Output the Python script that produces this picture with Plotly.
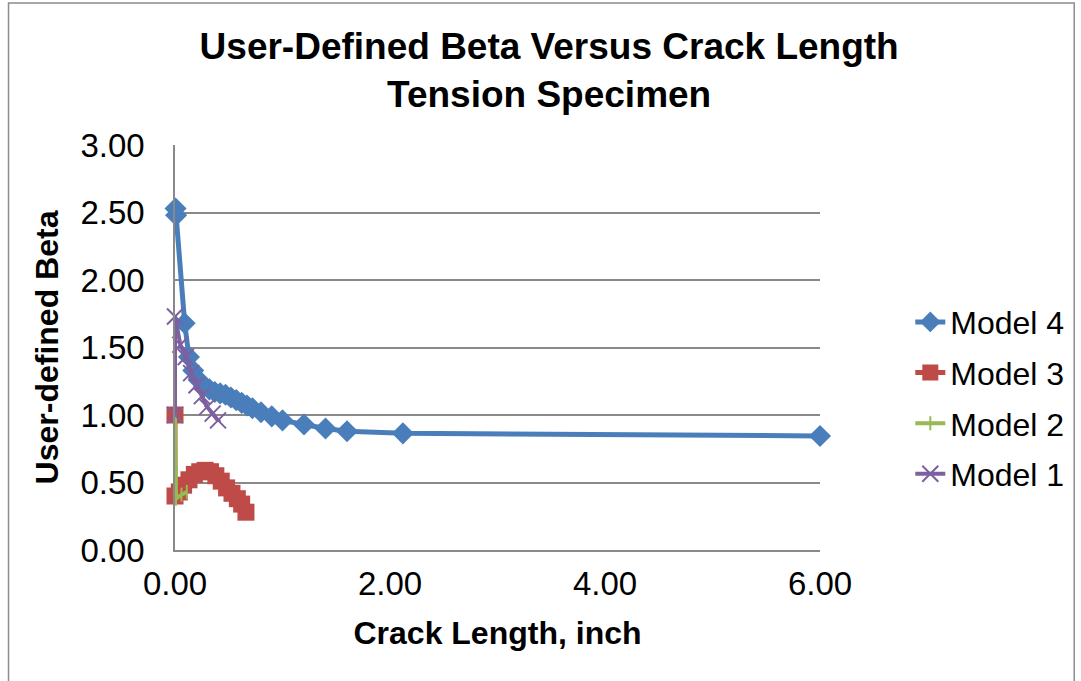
import plotly.graph_objects as go

# Crack length (inch) and user-defined beta for each model
m4_x = [0.005, 0.01, 0.09, 0.13, 0.17, 0.22, 0.27, 0.32, 0.37, 0.42, 0.47, 0.52,
        0.57, 0.62, 0.67, 0.72, 0.80, 0.90, 1.00, 1.20, 1.40, 1.60, 2.12, 6.00]
m4_y = [2.53, 2.48, 1.68, 1.43, 1.33, 1.26, 1.21, 1.19, 1.17, 1.16, 1.15, 1.13,
        1.11, 1.09, 1.07, 1.05, 1.02, 0.99, 0.96, 0.93, 0.90, 0.88, 0.864, 0.845]

m3_x = [0.0, 0.0, 0.04, 0.08, 0.13, 0.18, 0.23, 0.28, 0.33, 0.38, 0.43,
        0.48, 0.53, 0.58, 0.62, 0.66]
m3_y = [1.00, 0.40, 0.43, 0.48, 0.52, 0.56, 0.58, 0.59, 0.58, 0.55, 0.51,
        0.46, 0.42, 0.38, 0.34, 0.28]

m2_x = [0.0, 0.01, 0.06, 0.11]
m2_y = [1.00, 0.38, 0.41, 0.43]

m1_x = [0.0, 0.0, 0.05, 0.10, 0.15, 0.20, 0.25, 0.30, 0.35, 0.40]
m1_y = [1.00, 1.73, 1.52, 1.43, 1.31, 1.22, 1.14, 1.06, 1.01, 0.96]

x_ticks = [0, 2, 4, 6]
y_ticks = [0, 0.5, 1.0, 1.5, 2.0, 2.5, 3.0]

FONT = "Liberation Sans, Arial, sans-serif"
GRID = "#898989"

fig = go.Figure()

fig.add_trace(go.Scatter(
    x=m4_x, y=m4_y, name="Model 4", mode="lines+markers",
    line=dict(color="#4A7EBB", width=5),
    marker=dict(symbol="diamond", size=17, color="#4A7EBB"),
    cliponaxis=False, legendgroup="m4"))

fig.add_trace(go.Scatter(
    x=m3_x, y=m3_y, name="Model 3", mode="lines+markers",
    line=dict(color="#BE4B48", width=5),
    marker=dict(symbol="square", size=17, color="#BE4B48"),
    cliponaxis=False, legendgroup="m3"))

fig.add_trace(go.Scatter(
    x=m2_x, y=m2_y, name="Model 2", mode="lines+markers",
    line=dict(color="#98B954", width=4),
    marker=dict(symbol="line-ns", size=10, line=dict(color="#98B954", width=2)),
    cliponaxis=False, legendgroup="m2"))

fig.add_trace(go.Scatter(
    x=m1_x, y=m1_y, name="Model 1", mode="lines+markers",
    line=dict(color="#7D60A0", width=4),
    marker=dict(symbol="x-thin", size=16, line=dict(color="#7D60A0", width=2)),
    cliponaxis=False, legendgroup="m1"))

fig.update_layout(
    width=1081, height=681,
    margin=dict(l=175, r=259, t=145, b=131),
    paper_bgcolor="white", plot_bgcolor="white",
    font=dict(family=FONT, color="#000000"),
    title=dict(
        text="<b>User-Defined Beta Versus Crack Length<br>Tension Specimen</b>",
        x=0.508, xanchor="center", y=0.913, yanchor="middle",
        font=dict(size=37, family=FONT, color="#000000")),
    xaxis=dict(
        range=[0, 6], tickvals=x_ticks, tickformat=".2f",
        showgrid=False, zeroline=False,
        showline=True, linecolor=GRID, linewidth=1.5,
        ticks="", tickfont=dict(size=33, family=FONT), ticklabelstandoff=4,
        title=dict(text="<b>Crack Length, inch</b>", font=dict(size=32, family=FONT), standoff=20)),
    yaxis=dict(
        range=[0, 3], tickvals=y_ticks, tickformat=".2f",
        showgrid=True, gridcolor=GRID, gridwidth=1.5, zeroline=False,
        showline=True, linecolor=GRID, linewidth=1.5,
        ticks="", tickfont=dict(size=33, family=FONT), ticklabelstandoff=22,
        title=dict(text="<b>User-defined Beta</b>", font=dict(size=32, family=FONT), standoff=12)),
    legend=dict(
        x=1.14, xanchor="left", y=0.375, yanchor="middle",
        font=dict(size=32, family=FONT), traceorder="grouped",
        tracegroupgap=6, bgcolor="rgba(0,0,0,0)"),
    shapes=[dict(type="rect", xref="paper", yref="paper",
                 x0=(8 - 175) / 647, x1=(1077 - 175) / 647,
                 y0=(550 - 700) / 405, y1=(550 - 3) / 405,
                 line=dict(color="#8c8c8c", width=1.5), layer="below")],
)

fig.write_html("out.html")
